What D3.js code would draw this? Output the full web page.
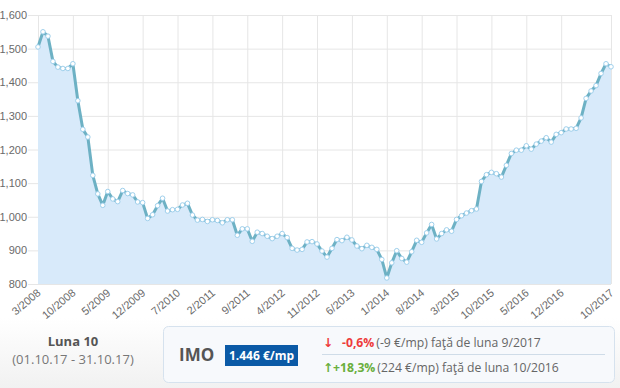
<!DOCTYPE html>
<html>
<head>
<meta charset="utf-8">
<script src="https://cdn.jsdelivr.net/npm/d3@7/dist/d3.min.js"></script>
<style>
  html, body { margin: 0; padding: 0; background: #fff; }
  svg { display: block; font-family: "Open Sans", "DejaVu Sans", sans-serif; }
</style>
</head>
<body>
<svg id="chart" width="620" height="388"></svg>
<script>
// ---- data ----
const startMonth = 3, startYear = 2008;
const values = [
  1505, 1550, 1537, 1462, 1445, 1441, 1441, 1455, 1345, 1260,
  1237, 1123, 1068, 1034, 1075, 1053, 1045, 1078, 1069, 1065,
  1044, 1042, 995, 1006, 1033, 1055, 1017, 1021, 1022, 1035,
  1040, 1005, 990, 992, 986, 991, 989, 982, 991, 991,
  945, 964, 964, 927, 954, 950, 942, 935, 942, 950,
  938, 906, 901, 903, 925, 926, 919, 898, 880, 906,
  932, 929, 939, 931, 913, 905, 915, 909, 903, 873,
  818, 863, 899, 876, 865, 896, 930, 924, 952, 977,
  934, 950, 961, 957, 992, 1003, 1011, 1018, 1023, 1105,
  1125, 1132, 1128, 1118, 1153, 1188, 1198, 1198, 1211, 1201,
  1216, 1225, 1235, 1222, 1245, 1250, 1261, 1261, 1263, 1294,
  1352, 1374, 1390, 1426, 1455, 1446
];
const categories = values.map((_, i) => {
  const m0 = startMonth - 1 + i;
  return (m0 % 12 + 1) + "/" + (startYear + Math.floor(m0 / 12));
});
const xTickLabels = ["3/2008","10/2008","5/2009","12/2009","7/2010","2/2011","9/2011",
  "4/2012","11/2012","6/2013","1/2014","8/2014","3/2015","10/2015","5/2016","12/2016","10/2017"];
const yTicks = [800, 900, 1000, 1100, 1200, 1300, 1400, 1500, 1600];

const summaryTitle = "Luna 10";
const summaryPeriod = "(01.10.17 - 31.10.17)";
const indexName = "IMO";
const indexValue = "1.446 €/mp";
const changes = [
  { arrow: "\u2193", pct: "-0,6%", rest: "(-9 €/mp) faţă de luna 9/2017", color: "#ee3b3b" },
  { arrow: "\u2191", pct: "+18,3%", rest: "(224 €/mp) faţă de luna 10/2016", color: "#6aaf3d" }
];

// ---- layout ----
const svg = d3.select("#chart");
const pLeft = 38, pRight = 611, pTop = 15, pBottom = 284, gridLeft = 28;

const x = d3.scalePoint().domain(categories).range([pLeft, pRight]);
const y = d3.scaleLinear().domain([800, 1600]).range([pBottom, pTop]);

// bottom background gradient
const defs = svg.append("defs");
const grad = defs.append("linearGradient").attr("id", "bg").attr("x1", 0).attr("y1", 0).attr("x2", 0).attr("y2", 1);
grad.append("stop").attr("offset", "0%").attr("stop-color", "#ffffff");
grad.append("stop").attr("offset", "100%").attr("stop-color", "#f1f1f1");
svg.append("rect").attr("x", 0).attr("y", 318).attr("width", 620).attr("height", 70).attr("fill", "url(#bg)");

// horizontal grid
const yAxis = d3.axisLeft(y).tickValues(yTicks).tickSize(-(pRight - gridLeft)).tickPadding(1)
  .tickFormat(d3.format(","));
const gy = svg.append("g").attr("transform", `translate(${gridLeft},0)`).call(yAxis);
gy.select(".domain").remove();
gy.selectAll(".tick line").attr("stroke", "#e6e6e6");
gy.selectAll(".tick text").attr("fill", "#6a6a6a").attr("font-size", 11).attr("x", -1);

// vertical grid
const xAxis = d3.axisBottom(x).tickValues(xTickLabels).tickSize(-(pBottom - pTop)).tickFormat(d => d);
const gx = svg.append("g").attr("transform", `translate(0,${pBottom})`).call(xAxis);
gx.select(".domain").remove();
gx.selectAll(".tick line").attr("stroke", "#e6e6e6");
gx.selectAll(".tick text")
  .attr("fill", "#6a6a6a").attr("font-size", 11)
  .attr("text-anchor", "end")
  .attr("y", 0).attr("dy", 0)
  .attr("transform", "translate(3,10) rotate(-40)");

// area
const area = d3.area().x((d, i) => x(categories[i])).y0(y(800)).y1(d => y(d));
svg.append("path").datum(values).attr("d", area).attr("fill", "#d8eafa");

// line
const line = d3.line().x((d, i) => x(categories[i])).y(d => y(d));
svg.append("path").datum(values).attr("d", line)
  .attr("fill", "none").attr("stroke", "#6db1c4").attr("stroke-width", 3)
  .attr("stroke-linejoin", "round");

// markers
svg.append("g").selectAll("circle").data(values).join("circle")
  .attr("cx", (d, i) => x(categories[i])).attr("cy", d => y(d)).attr("r", 2.3)
  .attr("fill", "#fff").attr("stroke", "#9fd0ec").attr("stroke-width", 1);

// summary left
svg.append("text").attr("x", 73).attr("y", 346).attr("text-anchor", "middle")
  .attr("font-size", 13).attr("font-weight", "bold").attr("fill", "#555").text(summaryTitle);
svg.append("text").attr("x", 73).attr("y", 364).attr("text-anchor", "middle")
  .attr("font-size", 13).attr("fill", "#777").text(summaryPeriod);

// box
svg.append("rect").attr("x", 163.5).attr("y", 326.5).attr("width", 451).attr("height", 56).attr("rx", 5)
  .attr("fill", "#f7f9fc").attr("stroke", "#d6e2ee");
svg.append("text").attr("x", 179).attr("y", 361).attr("font-size", 17).attr("font-weight", "bold")
  .attr("fill", "#555").text(indexName);
svg.append("rect").attr("x", 225).attr("y", 345).attr("width", 73).attr("height", 21).attr("fill", "#0b5aa6");
svg.append("text").attr("x", 261.5).attr("y", 360).attr("text-anchor", "middle").attr("font-size", 12)
  .attr("font-weight", "bold").attr("fill", "#fff").text(indexValue);

// change lines
svg.append("line").attr("x1", 322).attr("x2", 605).attr("y1", 354.5).attr("y2", 354.5).attr("stroke", "#cfdce8");
changes.forEach((c, k) => {
  const yy = 347 + k * 25;
  const t = svg.append("text").attr("y", yy).attr("font-size", 12.2);
  t.append("tspan").attr("x", 323).attr("fill", c.color).attr("font-weight", "bold").text(c.arrow);
  t.append("tspan").attr("x", k === 0 ? 342 : 333).attr("fill", c.color).attr("font-weight", "bold").text(c.pct);
  t.append("tspan").attr("dx", 2).attr("fill", "#666").text(c.rest);
});
</script>
</body>
</html>
